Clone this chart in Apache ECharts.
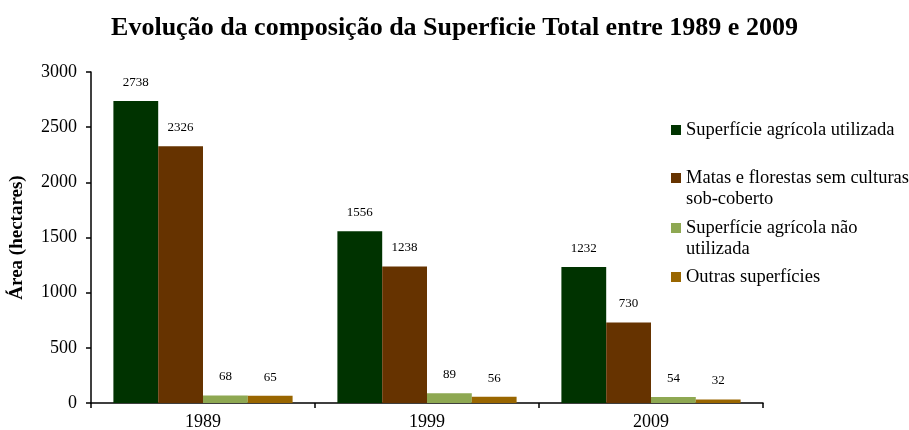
<!DOCTYPE html>
<html>
<head>
<meta charset="utf-8">
<script src="https://cdn.jsdelivr.net/npm/echarts@6/dist/echarts.min.js"></script>
<style>
  html, body { margin: 0; padding: 0; background: #fff; }
  #chart { width: 909px; height: 430px; }
</style>
</head>
<body>
<div id="chart"></div>
<script>
  // dados
  var anos = ['1989', '1999', '2009'];
  var sauValues = [2738, 1556, 1232];
  var matasValues = [2326, 1238, 730];
  var naoUtilValues = [68, 89, 54];
  var outrasValues = [65, 56, 32];
  var seriesNames = [
    'Superfície agrícola utilizada',
    'Matas e florestas sem culturas sob-coberto',
    'Superfície agrícola não utilizada',
    'Outras superfícies'
  ];
  // texto da legenda: primeira linha (com ícone) e segunda linha
  var legendLine1 = ['Superfície agrícola utilizada', 'Matas e florestas sem culturas', 'Superfície agrícola não', 'Outras superfícies'];
  var legendLine2 = ['', 'sob-coberto', 'utilizada', ''];
  var cores = ['#003300', '#663300', '#8ea852', '#996600'];
  var yTicks = { min: 0, max: 3000, interval: 500 };

  var serif = '"Liberation Serif", "Times New Roman", serif';
  var chart = echarts.init(document.getElementById('chart'));

  function makeSeries(name, values, color) {
    return {
      name: name,
      type: 'bar',
      data: values,
      barGap: '0%',
      barCategoryGap: '20%',
      itemStyle: { color: color },
      label: {
        show: true,
        position: 'top',
        distance: 12,
        color: '#000',
        fontFamily: serif,
        fontSize: 13
      }
    };
  }

  // uma legenda por linha, para acertar as posições
  var legendCenters = [130, 178, 228, 277];
  var legends = [];
  seriesNames.forEach(function (name, i) {
    var base = {
      data: [name],
      left: 671,
      padding: 0,
      itemWidth: 10,
      itemHeight: 10,
      selectedMode: false,
      textStyle: { fontFamily: serif, fontSize: 18.5, lineHeight: 21, color: '#000' }
    };
    legends.push(Object.assign({}, base, {
      top: legendCenters[i] - 10.5,
      icon: 'rect',
      formatter: function () { return legendLine1[i]; }
    }));
    if (legendLine2[i]) {
      legends.push(Object.assign({}, base, {
        top: legendCenters[i] + 10.5,
        icon: 'none',
        formatter: function () { return legendLine2[i]; }
      }));
    }
  });

  chart.setOption({
    animation: false,
    title: {
      text: 'Evolução da composição da Superficie Total entre 1989 e 2009',
      left: 'center',
      top: 10,
      textStyle: {
        fontFamily: serif,
        fontSize: 26,
        fontWeight: 'bold',
        color: '#000'
      }
    },
    legend: legends,
    grid: { left: 91, right: 146, top: 72, bottom: 27, containLabel: false, outerBoundsMode: 'none' },
    xAxis: {
      type: 'category',
      data: anos,
      axisLine: { lineStyle: { color: '#000', width: 1.5 } },
      axisTick: { show: true, length: 5, lineStyle: { color: '#000', width: 1.5 } },
      axisLabel: { color: '#000', fontFamily: serif, fontSize: 18, margin: 10 }
    },
    yAxis: {
      type: 'value',
      min: yTicks.min,
      max: yTicks.max,
      interval: yTicks.interval,
      name: 'Área (hectares)',
      nameLocation: 'middle',
      nameGap: 64,
      nameTextStyle: { color: '#000', fontFamily: serif, fontSize: 19, fontWeight: 'bold' },
      splitLine: { show: false },
      axisLine: { show: true, lineStyle: { color: '#000', width: 1.5 } },
      axisTick: { show: true, length: 5, lineStyle: { color: '#000', width: 1.5 } },
      axisLabel: {
        color: '#000',
        fontFamily: serif,
        fontSize: 18,
        margin: 14,
        formatter: function (v) { return String(v); }
      }
    },
    series: [
      makeSeries(seriesNames[0], sauValues, cores[0]),
      makeSeries(seriesNames[1], matasValues, cores[1]),
      makeSeries(seriesNames[2], naoUtilValues, cores[2]),
      makeSeries(seriesNames[3], outrasValues, cores[3])
    ]
  });
</script>
</body>
</html>
